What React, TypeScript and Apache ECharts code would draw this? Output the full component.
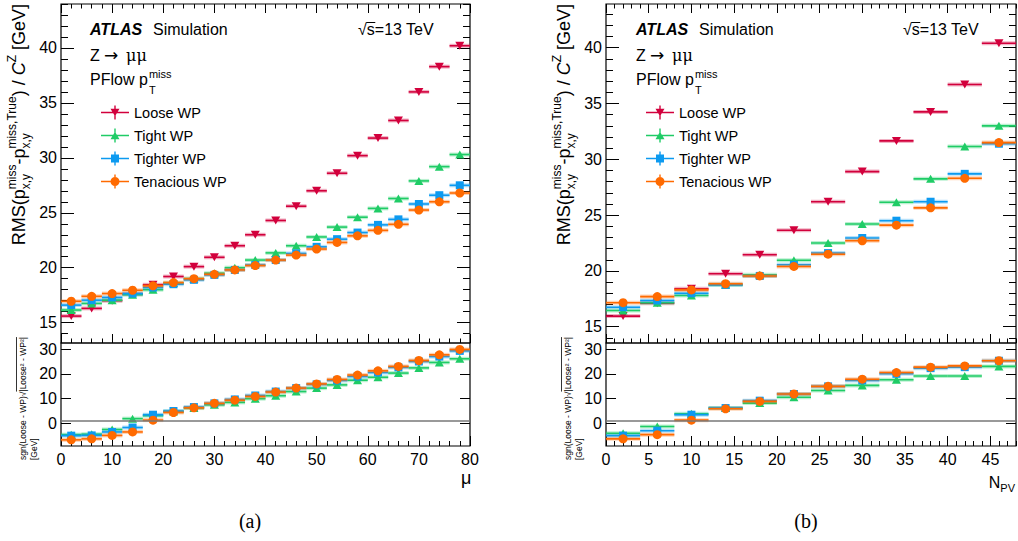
import React, { useEffect, useRef } from 'react';
import * as echarts from 'echarts';

const FONT = '"Liberation Sans", Arial, Helvetica, sans-serif';
const SERIF = '"Liberation Serif", "Times New Roman", serif';

// ---------- data ----------
const wpNames = ['Loose WP', 'Tight WP', 'Tighter WP', 'Tenacious WP'];
const wpColors = ['#d2003c', '#1fcc66', '#0c9af0', '#ff6a00'];
const binHalfWidth = 2;
const ratioReference = 1;

const muCenters = [2, 6, 10, 14, 18, 22, 26, 30, 34, 38, 42, 46, 50, 54, 58, 62, 66, 70, 74, 78];
const muLoose = [15.6, 16.3, 17.0, 17.6, 18.45, 19.2, 20.1, 20.95, 22.0, 23.0, 24.3, 25.6, 27.0, 28.6, 30.2, 31.8, 33.4, 36.0, 38.3, 40.2];
const muTight = [16.15, 16.75, 17.05, 17.55, 18.0, 18.6, 19.0, 19.5, 20.0, 20.7, 21.35, 22.0, 22.8, 23.7, 24.6, 25.4, 26.3, 27.9, 29.2, 30.3];
const muTighter = [16.6, 17.05, 17.3, 17.65, 18.2, 18.5, 18.9, 19.35, 19.8, 20.25, 20.7, 21.3, 21.9, 22.6, 23.2, 23.9, 24.4, 25.8, 26.6, 27.5];
const muTenacious = [16.95, 17.4, 17.65, 17.95, 18.35, 18.65, 19.0, 19.4, 19.8, 20.2, 20.7, 21.15, 21.7, 22.3, 22.9, 23.4, 23.95, 25.25, 26.0, 26.8];
const muTightDiff = [-4.7, -4.5, -2.6, 1.8, 3.0, 4.7, 6.1, 7.4, 8.4, 9.9, 11.1, 12.8, 14.2, 15.5, 17.4, 18.6, 20.3, 22.4, 24.6, 26.1];
const muTighterDiff = [-5.1, -5.0, -3.6, -1.8, 3.4, 4.9, 6.5, 8.0, 9.6, 11.2, 12.8, 14.2, 15.7, 17.3, 18.9, 20.5, 22.6, 25.0, 27.0, 29.3];
const muTenaciousDiff = [-6.8, -6.4, -5.0, -3.6, 1.2, 4.3, 6.2, 8.0, 9.3, 10.8, 12.6, 14.2, 15.9, 17.7, 19.5, 21.2, 23.0, 25.4, 27.7, 29.9];

const npvCenters = [2, 6, 10, 14, 18, 22, 26, 30, 34, 38, 42, 46];
const npvLoose = [15.95, 17.1, 18.4, 19.75, 21.45, 23.65, 26.2, 28.9, 31.65, 34.25, 36.7, 40.4];
const npvTight = [16.45, 17.15, 17.8, 18.75, 19.65, 20.95, 22.5, 24.2, 26.15, 28.25, 31.15, 33.0];
const npvTighter = [16.75, 17.35, 18.0, 18.75, 19.55, 20.55, 21.6, 22.95, 24.5, 26.2, 28.7, 31.4];
const npvTenacious = [17.15, 17.7, 18.3, 18.85, 19.55, 20.4, 21.5, 22.7, 24.1, 25.65, 28.3, 31.5];
const npvTightDiff = [-4.1, -1.4, 3.8, 6.1, 8.1, 10.5, 13.2, 15.3, 17.6, 19.1, 19.1, 23.0];
const npvTighterDiff = [-5.1, -3.1, 3.4, 6.1, 9.1, 11.8, 14.9, 17.3, 20.0, 22.3, 22.7, 25.3];
const npvTenaciousDiff = [-6.4, -4.7, 1.2, 5.8, 8.8, 11.8, 14.9, 17.8, 20.5, 22.7, 23.2, 25.3];

const muMajorTicks = [0, 10, 20, 30, 40, 50, 60, 70, 80];
const muMinorTicks = Array.from({ length: 41 }, (_, i) => i * 2);
const npvMajorTicks = [0, 5, 10, 15, 20, 25, 30, 35, 40, 45];
const npvMinorTicks = Array.from({ length: 49 }, (_, i) => i);
const mainYMajorTicks = [15, 20, 25, 30, 35, 40];
const mainYMinorTicks = Array.from({ length: 31 }, (_, i) => 14 + i);
const ratioYMajorTicks = [0, 10, 20, 30];

// ---------- helpers ----------
const measureCtx = typeof document !== 'undefined' ? document.createElement('canvas').getContext('2d') : null;
function textWidth(t: string, size: number, style = '', weight = '', family = '"Liberation Sans"') {
  if (!measureCtx) return t.length * size * 0.55;
  measureCtx.font = `${style} ${weight} ${size}px ${family}`;
  return measureCtx.measureText(t).width;
}

type Piece = { t: string; fs: number; dy: number; italic?: boolean; bold?: boolean; stack?: boolean; family?: string };
function layoutPieces(pieces: Piece[]) {
  let x = 0;
  let stackW = 0;
  const els: any[] = [];
  const xs: number[] = [];
  for (const p of pieces) {
    const fam = p.family || FONT;
    const w = textWidth(p.t, p.fs, p.italic ? 'italic' : '', p.bold ? 'bold' : '', fam);
    xs.push(x);
    els.push({
      type: 'text',
      x,
      y: p.dy,
      silent: true,
      style: {
        text: p.t,
        fontSize: p.fs,
        fontFamily: fam,
        fontStyle: p.italic ? 'italic' : 'normal',
        fontWeight: p.bold ? 'bold' : 'normal',
        fill: '#000',
        align: 'left',
        verticalAlign: 'middle',
      },
    });
    if (p.stack) {
      stackW = Math.max(stackW, w);
    } else {
      x += Math.max(w, stackW);
      stackW = 0;
    }
  }
  return { els, width: x, xs };
}

function txt(text: string, x: number, y: number, fs: number, extra: any = {}) {
  return {
    type: 'text',
    x,
    y,
    silent: true,
    style: { text, fontSize: fs, fontFamily: FONT, fill: '#000', align: 'left', verticalAlign: 'middle', ...extra },
  };
}

const xAxes: any[] = [];
const yAxes: any[] = [];
function tickAxis(kind: 'x' | 'y', grid: number, min: number, max: number, position: string, values: number[], len: number, labels: boolean, margin = 4) {
  const ax: any = {
    type: 'value',
    gridIndex: grid,
    min,
    max,
    position,
    axisLine: { show: false, onZero: false },
    splitLine: { show: false },
    minorTick: { show: false },
    axisTick: { show: true, inside: true, length: len, customValues: values, lineStyle: { color: '#000', width: 1 } },
    axisLabel: labels
      ? { show: true, customValues: values, color: '#000', fontSize: 16, fontFamily: FONT, margin }
      : { show: false },
    axisPointer: { show: false },
    silent: true,
  };
  const arr = kind === 'x' ? xAxes : yAxes;
  arr.push(ax);
  return arr.length - 1;
}

function buildPanelAxes(grid: number, xMin: number, xMax: number, xMaj: number[], xMin_: number[], yMin: number, yMax: number, yMaj: number[], yMinor: number[] | null, xLabels: boolean, yLabels: boolean, topTicks: boolean, xMajLen: number, xMinLen: number, yMajLen: number, yMinLen: number) {
  const xi = tickAxis('x', grid, xMin, xMax, 'bottom', xMaj, xMajLen, xLabels, 5);
  tickAxis('x', grid, xMin, xMax, 'bottom', xMin_, xMinLen, false);
  if (topTicks) {
    tickAxis('x', grid, xMin, xMax, 'top', xMaj, xMajLen, false);
    tickAxis('x', grid, xMin, xMax, 'top', xMin_, xMinLen, false);
  }
  const yi = tickAxis('y', grid, yMin, yMax, 'left', yMaj, yMajLen, yLabels, 4);
  tickAxis('y', grid, yMin, yMax, 'right', yMaj, yMajLen, false);
  if (yMinor) {
    tickAxis('y', grid, yMin, yMax, 'left', yMinor, yMinLen, false);
    tickAxis('y', grid, yMin, yMax, 'right', yMinor, yMinLen, false);
  }
  return { xi, yi };
}

const symbols = ['path://M0 0 L10 0 L5 9 Z', 'triangle', 'rect', 'circle'];
const symbolSizes: any[] = [[9, 8], [9, 8], 8, 9];
const legendIcons = [
  'path://M0 6.3 H28 V7.7 H0 Z M13.3 0 H14.7 V14 H13.3 Z M9.5 3.2 L18.5 3.2 L14 10.8 Z',
  'path://M0 6.3 H28 V7.7 H0 Z M13.3 0 H14.7 V14 H13.3 Z M14 3.2 L18.5 10.8 L9.5 10.8 Z',
  'path://M0 6.3 H28 V7.7 H0 Z M13.3 0 H14.7 V14 H13.3 Z M10 3 H18 V11 H10 Z',
  'path://M0 6.3 H28 V7.7 H0 Z M13.3 0 H14.7 V14 H13.3 Z M9.5 7 A4.5 4.5 0 1 1 18.5 7 A4.5 4.5 0 1 1 9.5 7 Z',
];

function wpSeries(wp: number, centers: number[], values: number[], xi: number, yi: number, extra: any = {}) {
  const color = wpColors[wp];
  const data = centers.map((c, i) => [c, values[i]]);
  return [
    {
      type: 'custom',
      xAxisIndex: xi,
      yAxisIndex: yi,
      data,
      clip: true,
      silent: true,
      itemStyle: { color },
      renderItem: (_p: any, api: any) => {
        const c = api.value(0);
        const v = api.value(1);
        const a = api.coord([c - binHalfWidth, v]);
        const b = api.coord([c + binHalfWidth, v]);
        return {
          type: 'group',
          children: [
            { type: 'line', shape: { x1: a[0], y1: a[1], x2: b[0], y2: b[1] }, style: { stroke: color, lineWidth: 4, opacity: 0.3 } },
            { type: 'line', shape: { x1: a[0], y1: a[1], x2: b[0], y2: b[1] }, style: { stroke: color, lineWidth: 1.6 } },
          ],
        };
      },
    },
    {
      type: 'scatter',
      name: wpNames[wp],
      xAxisIndex: xi,
      yAxisIndex: yi,
      data,
      symbol: symbols[wp],
      symbolSize: symbolSizes[wp],
      itemStyle: { color, opacity: 1 },
      clip: true,
      silent: true,
      ...extra,
    },
  ];
}

function refLine() {
  return {
    markLine: {
      silent: true,
      symbol: ['none', 'none'],
      label: { show: false },
      lineStyle: { color: '#777', width: 1.5, type: 'solid' },
      data: [{ yAxis: ratioReference }],
    },
  };
}

function buildOption() {
  xAxes.length = 0;
  yAxes.length = 0;
  const grids = [
    { left: 61, top: 4, width: 409, height: 339 },
    { left: 61, top: 343, width: 409, height: 103 },
    { left: 606, top: 4, width: 410, height: 339 },
    { left: 606, top: 343, width: 410, height: 103 },
  ].map((g) => ({ ...g, show: true, borderColor: '#000', borderWidth: 1.2, backgroundColor: 'transparent', containLabel: false }));

  const a0 = buildPanelAxes(0, 0, 80, muMajorTicks, muMinorTicks, 13.15, 44, mainYMajorTicks, mainYMinorTicks, false, true, true, 9, 4.5, 13, 7);
  const a1 = buildPanelAxes(1, 0, 80, muMajorTicks, muMinorTicks, -9.3, 32.5, ratioYMajorTicks, null, true, true, false, 10, 5, 10, 5);
  const a2 = buildPanelAxes(2, 0, 48, npvMajorTicks, npvMinorTicks, 13.54, 43.92, mainYMajorTicks, mainYMinorTicks, false, true, true, 9, 4.5, 13, 7);
  const a3 = buildPanelAxes(3, 0, 48, npvMajorTicks, npvMinorTicks, -9.3, 32.5, ratioYMajorTicks, null, true, true, false, 10, 5, 10, 5);

  const series: any[] = [
    ...wpSeries(0, muCenters, muLoose, a0.xi, a0.yi),
    ...wpSeries(1, muCenters, muTight, a0.xi, a0.yi),
    ...wpSeries(2, muCenters, muTighter, a0.xi, a0.yi),
    ...wpSeries(3, muCenters, muTenacious, a0.xi, a0.yi),
    ...wpSeries(1, muCenters, muTightDiff, a1.xi, a1.yi, refLine()),
    ...wpSeries(2, muCenters, muTighterDiff, a1.xi, a1.yi),
    ...wpSeries(3, muCenters, muTenaciousDiff, a1.xi, a1.yi),
    ...wpSeries(0, npvCenters, npvLoose, a2.xi, a2.yi),
    ...wpSeries(1, npvCenters, npvTight, a2.xi, a2.yi),
    ...wpSeries(2, npvCenters, npvTighter, a2.xi, a2.yi),
    ...wpSeries(3, npvCenters, npvTenacious, a2.xi, a2.yi),
    ...wpSeries(1, npvCenters, npvTightDiff, a3.xi, a3.yi, refLine()),
    ...wpSeries(2, npvCenters, npvTighterDiff, a3.xi, a3.yi),
    ...wpSeries(3, npvCenters, npvTenaciousDiff, a3.xi, a3.yi),
  ];

  const legendData = wpNames.map((n, i) => ({ name: n, icon: legendIcons[i] }));
  const legendBase = {
    orient: 'vertical',
    top: 100,
    itemWidth: 28,
    itemHeight: 14,
    itemGap: 8,
    symbolRotate: 0,
    selectedMode: false,
    textStyle: { fontSize: 14.5, fontFamily: FONT, color: '#000' },
    data: legendData,
  };

  // ---------- annotations ----------
  const graphics: any[] = [];
  const panelText = (x0: number, sx: number) => {
    graphics.push(txt('ATLAS', x0, 29, 16, { fontWeight: 'bold', fontStyle: 'italic' }));
    graphics.push(txt('Simulation', x0 + 63, 29, 16));
    const wRad = textWidth('√', 16);
    const wS = textWidth('s', 16);
    graphics.push(txt('√s=13 TeV', sx, 29, 16));
    graphics.push({ type: 'line', silent: true, shape: { x1: sx + wRad - 0.5, y1: 22.5, x2: sx + wRad + wS + 0.5, y2: 22.5 }, style: { stroke: '#000', lineWidth: 1 } });
    graphics.push(txt('Z', x0, 55, 16));
    graphics.push(txt('→', x0 + 14, 55, 17, { fontFamily: '"DejaVu Sans", sans-serif' }));
    graphics.push(txt('μμ', x0 + 36, 55, 16, { fontFamily: '"DejaVu Serif", serif' }));
    const pf = layoutPieces([
      { t: 'PFlow p', fs: 16, dy: 0 },
      { t: ' ', fs: 4, dy: 0 },
      { t: 'miss', fs: 11, dy: -6, stack: true },
      { t: 'T', fs: 11, dy: 10 },
    ]);
    graphics.push({ type: 'group', x: x0, y: 79.5, silent: true, children: pf.els });
  };
  panelText(90, 358);
  panelText(636, 903);

  // main y titles
  const yTitle = layoutPieces([
    { t: 'RMS(p', fs: 18, dy: 0 },
    { t: 'miss', fs: 12, dy: -7, stack: true },
    { t: 'x,y', fs: 12, dy: 7 },
    { t: '-p', fs: 18, dy: 0 },
    { t: 'miss,True', fs: 12, dy: -7, stack: true },
    { t: 'x,y', fs: 12, dy: 7 },
    { t: ') / ', fs: 18, dy: 0 },
    { t: 'C', fs: 18, dy: 0, italic: true },
    { t: 'Z', fs: 12, dy: -7 },
    { t: ' [GeV]', fs: 18, dy: 0 },
  ]);
  const r1 = layoutPieces([
    { t: 'sgn(Loose - WP)', fs: 8.5, dy: 0 },
    { t: '√', fs: 8.5, dy: 0 },
    { t: '|Loose² - WP²|', fs: 8.5, dy: 0 },
  ]);
  [0, 545].forEach((dx) => {
    graphics.push({ type: 'group', x: 18.5 + dx, y: 4 + yTitle.width, rotation: Math.PI / 2, silent: true, children: yTitle.els.map((e: any) => ({ ...e })) });
    graphics.push({
      type: 'group',
      x: 23 + dx,
      y: 460,
      rotation: Math.PI / 2,
      silent: true,
      children: [
        ...r1.els.map((e: any) => ({ ...e })),
        { type: 'line', silent: true, shape: { x1: r1.xs[2], y1: -6.5, x2: r1.width, y2: -6.5 }, style: { stroke: '#000', lineWidth: 0.8 } },
        txt('[GeV]', 0, 11, 8.5),
      ],
    });
  });

  // x titles
  graphics.push(txt('μ', 461, 478, 18));
  const npvTitle = layoutPieces([
    { t: 'N', fs: 16, dy: 0 },
    { t: 'PV', fs: 11, dy: 6 },
  ]);
  graphics.push({ type: 'group', x: 1015 - npvTitle.width, y: 482, silent: true, children: npvTitle.els });

  // captions
  graphics.push({ type: 'text', x: 250, y: 521, silent: true, style: { text: '(a)', fontSize: 20, fontFamily: SERIF, fill: '#000', align: 'center', verticalAlign: 'middle' } });
  graphics.push({ type: 'text', x: 806, y: 521, silent: true, style: { text: '(b)', fontSize: 20, fontFamily: SERIF, fill: '#000', align: 'center', verticalAlign: 'middle' } });

  return {
    animation: false,
    backgroundColor: '#fff',
    grid: grids,
    xAxis: xAxes,
    yAxis: yAxes,
    legend: [
      { ...legendBase, left: 96 },
      { ...legendBase, left: 641 },
    ],
    series,
    graphic: graphics,
  };
}

export default function App() {
  const ref = useRef<HTMLDivElement>(null);
  useEffect(() => {
    if (!ref.current) return;
    const chart = echarts.init(ref.current, null, { renderer: 'svg' });
    chart.setOption(buildOption() as any);
    return () => chart.dispose();
  }, []);
  return <div ref={ref} style={{ position: 'absolute', left: 0, top: 0, width: 1018, height: 541, background: '#fff' }} />;
}
